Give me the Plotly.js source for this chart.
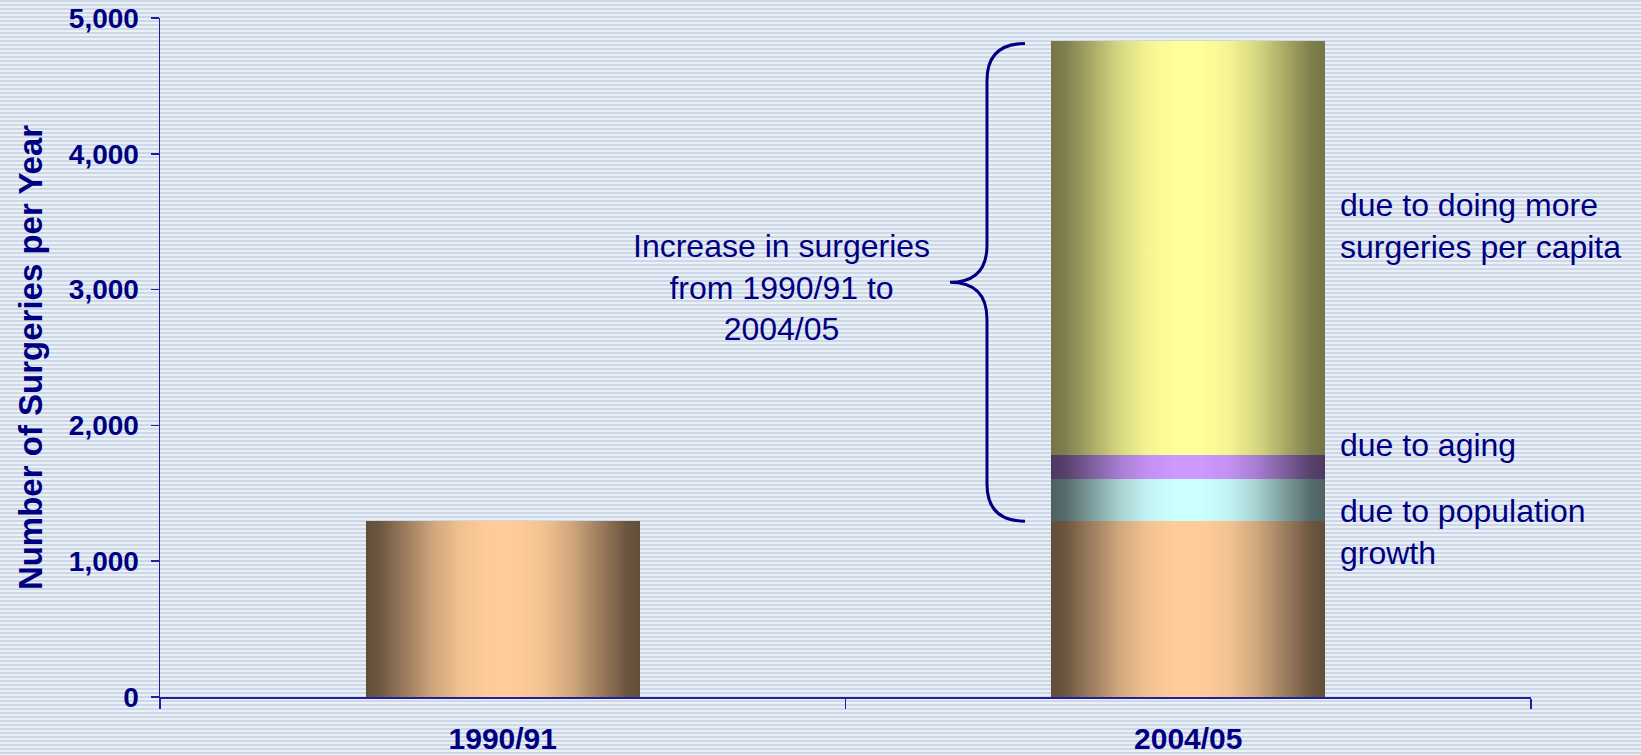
<!DOCTYPE html>
<html>
<head>
<meta charset="utf-8">
<script src="https://cdn.plot.ly/plotly-3.0.1.min.js"></script>
<style>
  html, body { margin: 0; padding: 0; }
  body {
    width: 1641px; height: 755px; overflow: hidden;
    background: repeating-linear-gradient(to bottom, #ccd8e8 0px, #ccd8e8 2px, #ebf0f7 2px, #ebf0f7 4px);
  }
  #chart { width: 1641px; height: 755px; }
</style>
</head>
<body>
<div id="chart"></div>
<script>
// ---- data ----
const categories = ['1990/91', '2004/05'];
const baseSurgeries = [1295, 1295];
const populationGrowth = [0, 310];
const agingGrowth = [0, 177];
const perCapitaGrowth = [0, 3050];
const yTickValues = [0, 1000, 2000, 3000, 4000, 5000];
const segmentLabels = ['due to population<br>growth', 'due to aging', 'due to doing more<br>surgeries per capita'];
const braceLabel = 'Increase in surgeries<br>from 1990/91 to<br>2004/05';
const yTitle = 'Number of Surgeries per Year';

// ---- style ----
const NAVY = '#000080';
const AXIS = '#1f1fa0';
const FONT = 'Liberation Sans, Arial, sans-serif';
const baseColors = ['#ffcc99', '#ccffff', '#cc99ff', '#ffff99'];
const edgeDark = [0.38, 0.38, 0.38, 0.46];

function mk(name, vals, color) {
  return {
    type: 'bar', name: name, x: categories, y: vals,
    marker: { color: color, line: { width: 0 } },
    hoverinfo: 'skip'
  };
}
const data = [
  mk('base', baseSurgeries, baseColors[0]),
  mk('population', populationGrowth, baseColors[1]),
  mk('aging', agingGrowth, baseColors[2]),
  mk('per capita', perCapitaGrowth, baseColors[3])
];

// brace geometry derived from data (index 1 = 2004/05)
const total2 = baseSurgeries[1] + populationGrowth[1] + agingGrowth[1] + perCapitaGrowth[1];
const yTop = total2 - 20;
const yBot = baseSurgeries[1];
const yMid = (yTop + yBot) / 2;
const rY = 273;
const xLine = 0.6032, xArm = 0.6309, xTip = 0.5762;
const bracePath =
  'M ' + xArm + ',' + yTop +
  ' Q ' + xLine + ',' + yTop + ' ' + xLine + ',' + (yTop - rY) +
  ' L ' + xLine + ',' + (yMid + rY) +
  ' Q ' + xLine + ',' + yMid + ' ' + xTip + ',' + yMid +
  ' Q ' + xLine + ',' + yMid + ' ' + xLine + ',' + (yMid - rY) +
  ' L ' + xLine + ',' + (yBot + rY) +
  ' Q ' + xLine + ',' + yBot + ' ' + xArm + ',' + yBot;

const annFont = { family: FONT, size: 32, color: NAVY };
const layout = {
  width: 1641, height: 755,
  margin: { l: 160, r: 110, t: 18, b: 58, pad: 0 },
  paper_bgcolor: 'rgba(0,0,0,0)',
  plot_bgcolor: 'rgba(0,0,0,0)',
  barmode: 'stack',
  bargap: 0.6,
  showlegend: false,
  font: { family: FONT, color: NAVY },
  xaxis: {
    type: 'category',
    showgrid: false, zeroline: false,
    showline: true, linecolor: AXIS, linewidth: 1.5,
    ticks: 'outside', tickson: 'boundaries', ticklen: 10, tickcolor: AXIS, tickwidth: 1.5,
    tickfont: { family: FONT, size: 30, color: NAVY, weight: 'bold' },
    ticklabelstandoff: 14,
    automargin: false
  },
  yaxis: {
    range: [0, 5000],
    tickvals: yTickValues,
    tickformat: ',d',
    showgrid: false, zeroline: false,
    showline: true, linecolor: AXIS, linewidth: 1.5,
    ticks: 'outside', ticklen: 8, tickcolor: AXIS, tickwidth: 1.5,
    tickfont: { family: FONT, size: 28, color: NAVY, weight: 'bold' },
    ticklabelstandoff: 6,
    title: { text: yTitle, font: { family: FONT, size: 33, color: NAVY, weight: 'bold' }, standoff: 16 },
    automargin: false
  },
  shapes: [{
    type: 'path', xref: 'paper', yref: 'y', path: bracePath,
    line: { color: NAVY, width: 3 }
  }],
  annotations: [
    { xref: 'paper', yref: 'y', x: 0.8592, y: 1217, xanchor: 'left', yanchor: 'middle', align: 'left',
      text: segmentLabels[0], showarrow: false, font: annFont },
    { xref: 'paper', yref: 'y', x: 0.8592, y: 1855, xanchor: 'left', yanchor: 'middle', align: 'left',
      text: segmentLabels[1], showarrow: false, font: annFont },
    { xref: 'paper', yref: 'y', x: 0.8592, y: 3470, xanchor: 'left', yanchor: 'middle', align: 'left',
      text: segmentLabels[2], showarrow: false, font: annFont },
    { xref: 'paper', yref: 'y', x: 0.453, y: 3018, xanchor: 'center', yanchor: 'middle', align: 'center',
      text: braceLabel, showarrow: false, font: annFont }
  ]
};

const profile = [[0,0.38],[0.05,0.42],[0.15,0.62],[0.25,0.82],[0.35,0.95],[0.45,1],[0.55,1],[0.65,0.95],[0.75,0.82],[0.85,0.62],[0.95,0.42],[1,0.38]];
function hexToRgb(h) { return [parseInt(h.substr(1,2),16), parseInt(h.substr(3,2),16), parseInt(h.substr(5,2),16)]; }

function applyGradients(gd) {
  const svg = gd.querySelector('svg.main-svg');
  const NS = 'http://www.w3.org/2000/svg';
  const defs = document.createElementNS(NS, 'defs');
  baseColors.forEach(function (c, i) {
    const rgb = hexToRgb(c);
    const g = document.createElementNS(NS, 'linearGradient');
    g.setAttribute('id', 'bargrad' + i);
    g.setAttribute('x1', '0'); g.setAttribute('x2', '1');
    g.setAttribute('y1', '0'); g.setAttribute('y2', '0');
    profile.forEach(function (p) {
      const dark = edgeDark[i];
      const f = dark + (1 - dark) * ((p[1] - 0.38) / 0.62);
      const s = document.createElementNS(NS, 'stop');
      s.setAttribute('offset', p[0]);
      s.setAttribute('stop-color', 'rgb(' + rgb.map(function (v) { return Math.round(v * f); }).join(',') + ')');
      g.appendChild(s);
    });
    defs.appendChild(g);
  });
  svg.insertBefore(defs, svg.firstChild);
  const traces = gd.querySelectorAll('.barlayer .trace');
  traces.forEach(function (tr, i) {
    tr.querySelectorAll('path').forEach(function (p) { p.style.fill = 'url(#bargrad' + i + ')'; });
  });
}

const gd = document.getElementById('chart');
Plotly.newPlot(gd, data, layout, { staticPlot: true, displayModeBar: false }).then(function () { applyGradients(gd); });
</script>
</body>
</html>
